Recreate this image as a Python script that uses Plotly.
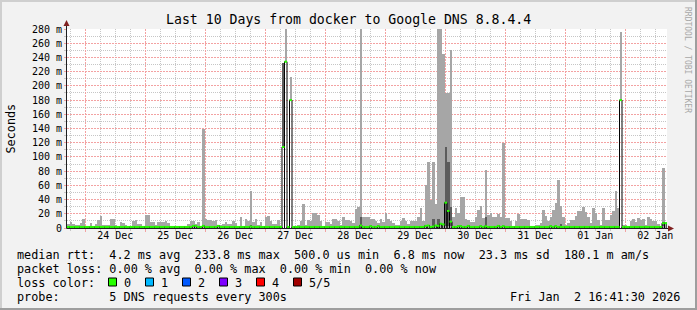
import plotly.graph_objects as go
from datetime import datetime, timedelta

# ---------------- data ----------------
start = datetime(2025, 12, 23, 16, 41, 30)
end = datetime(2026, 1, 2, 16, 41, 30)

# top of the smoke (max rtt) per hour, milliseconds
smoke_max = [
    5, 8, 6, 4, 4, 7.5, 12.7, 2.5, 2.5, 7, 2.5, 5.6, 11, 17, 4, 4, 4, 12.7, 12.7, 4.7,
    1.5, 8.4, 6.6, 3.8, 2.3, 2.3, 10, 10.8, 5.6, 5, 1.5, 19, 19, 9, 9, 3.8, 9, 9, 9, 10,
    7, 2.3, 2.3, 2.8, 2.8, 1.5, 1.5, 3, 5, 10, 9.4, 5, 8.4, 2.5, 140, 12.7, 11, 11.8, 10, 11,
    4, 4, 5.6, 8.4, 5, 5, 10, 7, 2, 15, 1.5, 12.7, 9.4, 52, 8.4, 12, 4, 8.4, 1.5, 15,
    17, 10, 5, 5.6, 11, 1.5, 232, 300, 0, 213, 2, 2, 4, 10, 34, 4, 11, 10, 21, 21,
    18, 10, 2, 8.4, 8.4, 5, 12.7, 12.7, 10, 4, 15.5, 11, 11, 10, 7, 27, 29, 300, 15, 15,
    15, 13, 13, 10, 7.5, 13, 8.4, 21.6, 12, 10, 7.5, 4.7, 4.7, 10, 13.6, 9.4, 5, 10, 9.4, 9.4,
    15, 28, 10, 60, 93, 40, 93, 34, 300, 300, 245, 190, 190, 250, 15, 28, 21, 43, 43, 13,
    11, 9, 9, 16, 25, 31, 14, 81, 18, 21, 16, 16, 20, 16, 120, 14.6, 14.6, 10, 2.8, 10,
    20, 12, 12, 12, 11, 2.8, 2.8, 4, 4, 6.6, 25, 17, 10, 15, 26, 35, 68, 31, 16, 4,
    6.6, 11, 11, 17, 24, 24, 30, 23, 15, 6.6, 28, 20.6, 11, 4, 28, 11, 11, 18, 24, 52,
    28, 276, 4, 4, 2, 10, 13, 8.4, 14, 11, 12.7, 3.8, 15, 13, 9.4, 9.4, 5.6, 2, 85, 5,
]

# median rtt per hour, milliseconds
median = [
    1.5, 1.5, 1.5, 1.5, 1.5, 1.5, 1.5, 1.5, 1.5, 1.5, 1.5, 1.5, 1.5, 1.5, 1.5, 1.5, 1.5, 1.5, 1.5, 1.5,
    1.5, 1.5, 1.5, 1.5, 1.5, 1.5, 1.5, 1.5, 1.5, 1.5, 1.5, 1.5, 1.5, 1.5, 1.5, 1.5, 1.5, 1.5, 1.5, 1.5,
    1.5, 1.5, 1.5, 1.5, 1.5, 1.5, 1.5, 1.5, 1.5, 1.5, 3, 3, 1.5, 1.5, 3, 1.5, 1.5, 1.5, 1.5, 1.5,
    3, 1.5, 1.5, 1.5, 1.5, 1.5, 1.5, 1.5, 1.5, 1.5, 1.5, 1.5, 1.5, 2, 1.5, 1.5, 1.5, 1.5, 1.5, 1.5,
    1.5, 1.5, 1.5, 1.5, 1.5, 1.5, 114, 234, 1.5, 180, 1.5, 1.5, 1.5, 1.5, 1.5, 1.5, 1.5, 1.5, 1.5, 1.5,
    1.5, 1.5, 1.5, 1.5, 1.5, 1.5, 1.5, 1.5, 1.5, 1.5, 1.5, 1.5, 1.5, 1.5, 1.5, 1.5, 1.5, 3.5, 1.5, 1.5,
    1.5, 2.5, 1.5, 1.5, 2.5, 1.5, 1.5, 1.5, 1.5, 1.5, 1.5, 1.5, 1.5, 1.5, 1.5, 1.5, 1.5, 1.5, 1.5, 1.5,
    1.5, 1.5, 1.5, 3, 3.5, 1.5, 2, 3.5, 3, 6, 5, 35.6, 24, 9, 1.5, 1.5, 2.5, 2.5, 1.5, 1.5,
    3, 1.5, 1.5, 1.5, 1.5, 2.5, 1.5, 2.5, 1.5, 1.5, 1.5, 1.5, 3, 1.5, 2.5, 1.5, 1.5, 1.5, 1.5, 1.5,
    1.5, 1.5, 1.5, 1.5, 1.5, 1.5, 1.5, 1.5, 1.5, 1.5, 1.5, 1.5, 1.5, 2.5, 1.5, 2.5, 1.5, 1.5, 1.5, 1.5,
    1.5, 1.5, 1.5, 1.5, 1.5, 1.5, 1.5, 1.5, 1.5, 1.5, 1.5, 1.5, 1.5, 1.5, 1.5, 1.5, 1.5, 1.5, 1.5, 1.5,
    1.5, 180, 1.5, 1.5, 1.5, 1.5, 1.5, 1.5, 1.5, 1.5, 1.5, 1.5, 1.5, 1.5, 1.5, 1.5, 1.5, 1.5, 6.8, 6.8,
]

# hours where the smoke does not start at zero (min rtt high)
float_bins = [86, 87, 89, 221]
float_min = [114, 234, 180, 180]

# darker inner smoke band
dark_bins = [73, 86, 117, 146, 148, 151, 152, 153, 167, 197, 238]
dark_lo = [1.5, 114, 0, 0, 0, 3, 3, 3, 0, 2, 3]
dark_hi = [4, 232, 16, 13, 13, 114, 93, 30, 16, 5, 9]

day_labels = ["24 Dec", "25 Dec", "26 Dec", "27 Dec", "28 Dec",
              "29 Dec", "30 Dec", "31 Dec", "01 Jan", "02 Jan"]
y_ticks = [0, 20, 40, 60, 80, 100, 120, 140, 160, 180, 200, 220, 240, 260, 280]
y_labels = ["0", "20 m", "40 m", "60 m", "80 m", "100 m", "120 m", "140 m", "160 m",
            "180 m", "200 m", "220 m", "240 m", "260 m", "280 m"]
y_minor = [10, 30, 50, 70, 90, 110, 130, 150, 170, 190, 210, 230, 250, 270]

loss_labels = ["0", "1", "2", "3", "4", "5/5"]
loss_colors = ["#26ff00", "#00b8ff", "#0059ff", "#7e00ff", "#ff0000", "#a10000"]

legend_lines = [
    "median rtt:  4.2 ms avg  233.8 ms max  500.0 us min  6.8 ms now  23.3 ms sd  180.1 m am/s",
    "packet loss: 0.00 % avg  0.00 % max  0.00 % min  0.00 % now",
    "loss color:",
    "probe:       5 DNS requests every 300s",
]
stamp = "Fri Jan  2 16:41:30 2026"
title = "Last 10 Days from docker to Google DNS 8.8.4.4"

# ---------------- build ----------------
MONO = "DejaVu Sans Mono"
W, H = 697, 310
L, R, T, B = 67, 667, 29, 228
HOUR = timedelta(hours=1)


def px(x):
    return (x - L) / (R - L)


def py(y):
    return (B - y) / (B - T)


n = len(smoke_max)
left = [start + i * HOUR for i in range(n)]
center = [start + (i + 0.5) * HOUR for i in range(n)]
smoke_min = [0.0] * n
for b, v in zip(float_bins, float_min):
    smoke_min[b] = v
smoke_h = [mx - mn for mx, mn in zip(smoke_max, smoke_min)]

fig = go.Figure()
fig.add_trace(go.Bar(x=center, y=smoke_h, base=smoke_min, width=3600000,
                     marker=dict(color="#a6a6a6", line=dict(width=0)),
                     hoverinfo="skip", showlegend=False))
fig.add_trace(go.Bar(x=[center[b] for b in dark_bins],
                     y=[h - l for l, h in zip(dark_lo, dark_hi)], base=dark_lo,
                     width=3600000,
                     marker=dict(color="#5c5c5c", line=dict(width=0)),
                     hoverinfo="skip", showlegend=False))

# black median outline
bx, by = [], []
for i in range(n):
    l0, r0 = left[i], left[i] + HOUR
    bx += [l0, l0, r0, r0]
    by += [0, median[i], median[i], 0]
fig.add_trace(go.Scatter(x=bx, y=by, mode="lines", xaxis="x2",
                         line=dict(color="#000000", width=1),
                         hoverinfo="skip", showlegend=False))
# green median (loss 0)
gx, gy = [], []
for i in range(n):
    gx += [left[i], left[i] + HOUR, None]
    gy += [median[i], median[i], None]
fig.add_trace(go.Scatter(x=gx, y=gy, mode="lines", xaxis="x2",
                         line=dict(color=loss_colors[0], width=2),
                         hoverinfo="skip", showlegend=False))

MAJ = "#f3a2a2"
MAJ_DASH = "2px,1px"
MIN = "#c6c6c6"
MIN_DASH = "1px,1px"
noons = [datetime(2025, 12, 24, 12) + timedelta(days=k) for k in range(len(day_labels))]

shapes = []
# frame
shapes.append(dict(type="rect", xref="paper", yref="paper", x0=px(0), x1=px(W), y0=py(0), y1=py(2),
                   fillcolor="#cfcfcf", line=dict(width=0), layer="above"))
shapes.append(dict(type="rect", xref="paper", yref="paper", x0=px(0), x1=px(2), y0=py(0), y1=py(H),
                   fillcolor="#cfcfcf", line=dict(width=0), layer="above"))
shapes.append(dict(type="rect", xref="paper", yref="paper", x0=px(0), x1=px(W), y0=py(H - 2), y1=py(H),
                   fillcolor="#9e9e9e", line=dict(width=0), layer="above"))
shapes.append(dict(type="rect", xref="paper", yref="paper", x0=px(W - 2), x1=px(W), y0=py(0), y1=py(H),
                   fillcolor="#9e9e9e", line=dict(width=0), layer="above"))
# axes
shapes.append(dict(type="line", xref="paper", yref="paper", x0=px(66.5), x1=px(670), y0=py(228.5), y1=py(228.5),
                   line=dict(color="#1f1f1f", width=1), layer="above"))
shapes.append(dict(type="line", xref="paper", yref="paper", x0=px(66.5), x1=px(66.5), y0=py(228.5), y1=py(23),
                   line=dict(color="#1f1f1f", width=1), layer="above"))
# arrows
shapes.append(dict(type="path", xref="paper", yref="paper",
                   path=f"M {px(63.5)} {py(26)} L {px(69.5)} {py(26)} L {px(66.5)} {py(20)} Z",
                   fillcolor="#802020", line=dict(width=0), layer="above"))
shapes.append(dict(type="path", xref="paper", yref="paper",
                   path=f"M {px(668)} {py(225.5)} L {px(668)} {py(231.5)} L {px(674)} {py(228.5)} Z",
                   fillcolor="#802020", line=dict(width=0), layer="above"))
# loss colour swatches
sq_x = [108.5, 145.5, 182.5, 219.5, 256.5, 293.5]
for sx, c in zip(sq_x, loss_colors):
    shapes.append(dict(type="rect", xref="paper", yref="paper", x0=px(sx), x1=px(sx + 8),
                       y0=py(286), y1=py(278), fillcolor=c, line=dict(color="#000000", width=1),
                       layer="above"))

annotations = []


def txt(x, y, s, anchor="left", size=11.8, color="#000000", angle=0):
    annotations.append(dict(xref="paper", yref="paper", x=px(x), y=py(y), xanchor=anchor,
                            yanchor="middle", showarrow=False, borderpad=0, textangle=angle,
                            text=s.replace(" ", "\u00a0"),
                            font=dict(family=MONO, size=size, color=color)))


txt(348.5, 19.5, title, anchor="center", size=13.2)
txt(10, 128.5, "Seconds", anchor="center", angle=-90)
txt(688, 60, "RRDTOOL / TOBI OETIKER", anchor="center", size=8, color="#a8a8a8", angle=90)
for k, line in enumerate(legend_lines):
    txt(16, 254.5 + 14 * k, line)
for sx, lab in zip(sq_x, loss_labels):
    txt(sx + 14.5, 282.5, lab)
txt(681, 296.5, stamp, anchor="right")

fig.update_layout(
    width=W, height=H,
    margin=dict(l=L, r=W - R, t=T, b=H - B, pad=0),
    paper_bgcolor="#f2f2f2", plot_bgcolor="#ffffff",
    bargap=0, barmode="overlay", showlegend=False,
    font=dict(family=MONO, size=10, color="#000000"),
    xaxis=dict(type="date", range=[start, end], showgrid=False, zeroline=False, showline=False,
               tickmode="array", tickvals=noons, ticktext=day_labels, ticks="",
               tickfont=dict(family=MONO, size=10)),
    xaxis2=dict(type="date", overlaying="x", range=[start, end], showticklabels=False,
                showgrid=True, gridcolor=MAJ, griddash=MAJ_DASH, gridwidth=1,
                tickmode="linear", tick0="2025-12-24 00:00:00", dtick=86400000,
                ticks="outside", ticklen=3, tickcolor=MAJ, side="bottom", anchor="y",
                zeroline=False, showline=False,
                minor=dict(tickmode="linear", tick0="2025-12-24 00:00:00", dtick=21600000,
                           showgrid=True, gridcolor=MIN, griddash=MIN_DASH, gridwidth=1,
                           ticks="outside", ticklen=2, tickcolor=MIN)),
    yaxis=dict(range=[0, 280], zeroline=False, showline=False,
               tickmode="array", tickvals=y_ticks, ticktext=y_labels,
               showgrid=True, gridcolor=MAJ, griddash=MAJ_DASH, gridwidth=1,
               ticks="outside", ticklen=2, tickcolor=MAJ,
               tickfont=dict(family=MONO, size=10),
               minor=dict(tickmode="array", tickvals=y_minor, showgrid=True, gridcolor=MIN,
                          griddash=MIN_DASH, gridwidth=1, ticks="outside", ticklen=2,
                          tickcolor=MIN)),
    shapes=shapes, annotations=annotations,
)

fig.write_html("out.html")
